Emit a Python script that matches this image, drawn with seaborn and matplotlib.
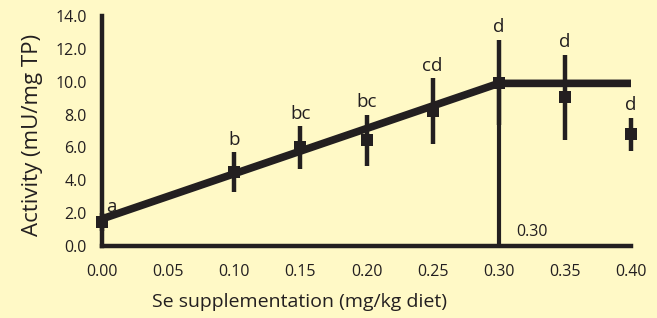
import matplotlib
matplotlib.use("Agg")
import matplotlib.pyplot as plt
import seaborn as sns
import pandas as pd

# Data
dose = [0.00, 0.10, 0.15, 0.20, 0.25, 0.30, 0.35, 0.40]
activity = [1.45, 4.5, 6.0, 6.45, 8.2, 9.95, 9.05, 6.8]
err = [0.55, 1.2, 1.3, 1.55, 2.0, 2.6, 2.6, 1.0]
letters = ["a", "b", "bc", "bc", "cd", "d", "d", "d"]
fit_x = [0.00, 0.30, 0.40]
fit_y = [1.65, 9.9, 9.9]
breakpoint_x = 0.30
xticks = [0.00, 0.05, 0.10, 0.15, 0.20, 0.25, 0.30, 0.35, 0.40]
yticks = [0, 2, 4, 6, 8, 10, 12, 14]

bg = "#FFF9C6"
ink = "#231F20"

sns.set_style("white")
plt.rcParams["font.family"] = ["Open Sans", "DejaVu Sans"]

fig = plt.figure(figsize=(6.57, 3.18), dpi=100, facecolor=bg)
ax = fig.add_axes([102/657, 1-246/318, 529/657, 230/318], facecolor=bg)

df = pd.DataFrame({"dose": dose, "activity": activity, "err": err})
fitdf = pd.DataFrame({"x": fit_x, "y": fit_y})

# breakpoint vertical line
ax.plot([breakpoint_x, breakpoint_x], [0, fit_y[1]], color=ink, lw=3.0, zorder=2,
        solid_capstyle="butt")

# error bars
ax.errorbar(dose, activity, yerr=err, fmt="none", ecolor=ink, elinewidth=3.2,
            capsize=0, zorder=3, clip_on=False)

# fit line
sns.lineplot(data=fitdf, x="x", y="y", ax=ax, color=ink, lw=5.5, zorder=4,
             sort=False, estimator=None)
ax.lines[-1].set_solid_capstyle("butt")

# markers
sns.scatterplot(data=df, x="dose", y="activity", ax=ax, marker="s", s=85,
                color=ink, edgecolor=ink, linewidth=0, zorder=5, clip_on=False,
                legend=False)

# letters
for xi, yi, ei, lab in zip(dose, activity, err, letters):
    if lab == "a":
        ax.text(xi + 0.003, yi + ei + 0.05, lab, ha="left", va="baseline",
                fontsize=13.5, color=ink)
    else:
        ax.text(xi, yi + ei + 0.45, lab, ha="center", va="baseline",
                fontsize=13.5, color=ink)

ax.text(breakpoint_x + 0.0135, 0.6, "0.30", ha="left", va="baseline",
        fontsize=11.5, color=ink)

ax.set_xlim(0, 0.40)
ax.set_ylim(0, 14)
ax.set_xticks(xticks)
ax.set_xticklabels([f"{t:.2f}" for t in xticks])
ax.set_yticks(yticks)
ax.set_yticklabels([f"{t:.1f}" for t in yticks])
ax.tick_params(axis="both", direction="out", colors=ink, labelsize=11.5,
               width=3.0, length=3)
ax.tick_params(axis="y", pad=8)
ax.tick_params(axis="x", length=3, pad=10)

for side in ["top", "right"]:
    ax.spines[side].set_visible(False)
for side in ["left", "bottom"]:
    ax.spines[side].set_color(ink)
    ax.spines[side].set_linewidth(3.2)

ax.set_xlabel("Se supplementation (mg/kg diet)", fontsize=14, color=ink, labelpad=9)
ax.xaxis.label.set_x(0.374)
ax.set_ylabel("Activity (mU/mg TP)", fontsize=16, color=ink, labelpad=9)
ax.yaxis.label.set_y(0.485)

fig.savefig("out.png", dpi=100, facecolor=bg)
